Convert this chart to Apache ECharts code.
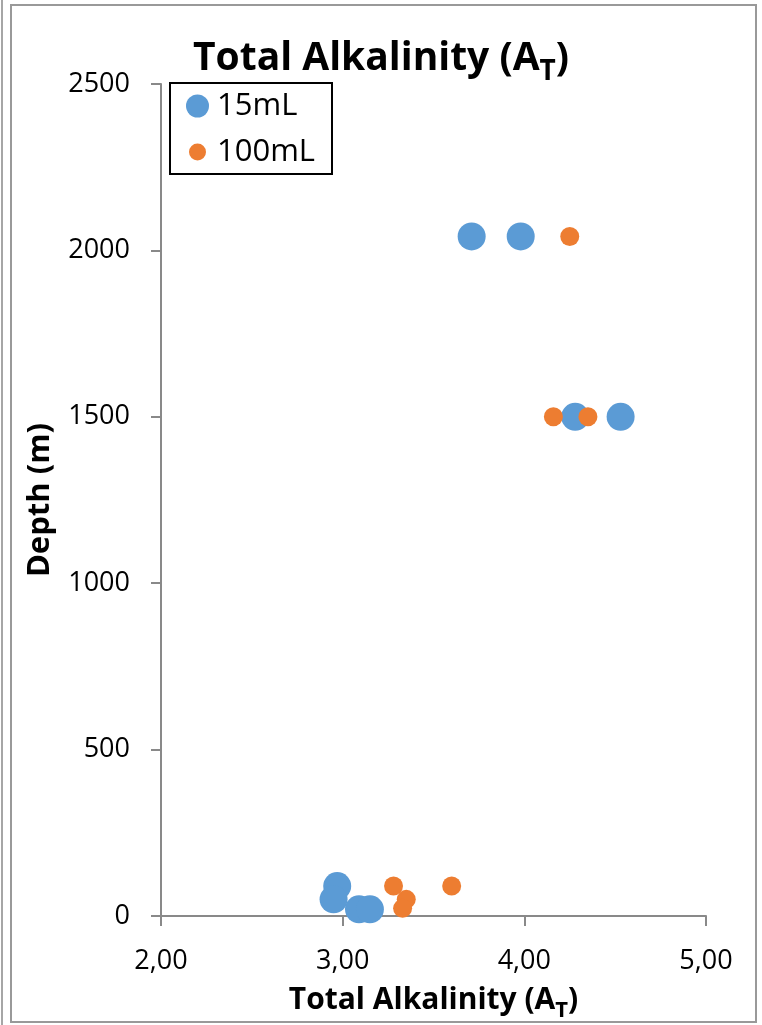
<!DOCTYPE html>
<html>
<head>
<meta charset="utf-8">
<script src="https://cdn.jsdelivr.net/npm/echarts@6/dist/echarts.min.js"></script>
<style>
  html, body { margin: 0; padding: 0; background: #fff; }
  #chart { width: 762px; height: 1025px; }
</style>
</head>
<body>
<div id="chart"></div>
<script>
// Total alkalinity against sampling depth, two sample volumes
const seriesNames = ['15mL', '100mL'];
const alkalinity15 = [3.71, 3.98, 4.28, 4.53, 2.97, 2.95, 3.09, 3.15];
const depth15      = [2042, 2042, 1500, 1500,   90,   50,   20,   20];
const alkalinity100 = [4.25, 4.16, 4.35, 3.28, 3.60, 3.35, 3.33];
const depth100      = [2042, 1500, 1500,   90,   90,   50,   23];
const xTicks = [2, 3, 4, 5];
const yTicks = [0, 500, 1000, 1500, 2000, 2500];

const FONT = 'Open Sans';
const AXIS_GREY = '#898989';
const BLUE = '#5B9BD5';
const ORANGE = '#ED7D31';

const pairs = (xs, ys) => xs.map((x, i) => [x, ys[i]]);

// Bold text with a lowered "T" subscript; the top padding pushes the small token down
const subscriptRich = (size, subSize, lineH, drop) => ({
  a: { fontFamily: FONT, fontWeight: 'bold', fontSize: size, lineHeight: lineH, color: '#000', verticalAlign: 'middle' },
  b: { fontFamily: FONT, fontWeight: 'bold', fontSize: subSize, lineHeight: subSize, color: '#000', verticalAlign: 'middle', padding: [drop * 2, 0, 0, 0] }
});

const chart = echarts.init(document.getElementById('chart'), null, { renderer: 'canvas' });

chart.setOption({
  animation: false,
  backgroundColor: '#fff',
  title: {
    text: '{a|Total Alkalinity (A}{b|T}{a|)}',
    left: 'center',
    top: 31,
    padding: 0,
    textStyle: { rich: subscriptRich(39, 28, 56, 13) }
  },
  legend: [
    {
      data: [seriesNames[0]],
      left: 186, top: 90, padding: 0,
      icon: 'circle', itemWidth: 23, itemHeight: 23,
      textStyle: { fontFamily: FONT, fontSize: 31, color: '#000', lineHeight: 32, padding: [0, 0, 0, 3] }
    },
    {
      data: [seriesNames[1]],
      left: 189, top: 136, padding: 0,
      icon: 'circle', itemWidth: 17, itemHeight: 17,
      textStyle: { fontFamily: FONT, fontSize: 31, color: '#000', lineHeight: 32, padding: [0, 0, 0, 6] }
    }
  ],
  // fixed plot rectangle: axis labels and names may sit outside it
  grid: { left: 161, right: 56, top: 84, bottom: 109, containLabel: false, outerBoundsMode: 'none' },
  xAxis: {
    type: 'value',
    min: xTicks[0], max: xTicks[xTicks.length - 1], interval: 1,
    name: '{a|Total Alkalinity (A}{b|T}{a|)}',
    nameLocation: 'middle',
    nameGap: 53,
    nameTextStyle: { rich: subscriptRich(30, 22, 44, 10) },
    axisLine: { show: true, onZero: false, lineStyle: { color: AXIS_GREY, width: 2 } },
    axisTick: { show: true, length: 10, lineStyle: { color: AXIS_GREY, width: 2 } },
    axisLabel: {
      margin: 32, fontFamily: FONT, fontSize: 27, color: '#000',
      formatter: v => v.toFixed(2).replace('.', ',')
    },
    splitLine: { show: false }
  },
  yAxis: {
    type: 'value',
    min: yTicks[0], max: yTicks[yTicks.length - 1], interval: 500,
    name: 'Depth (m)',
    nameLocation: 'middle',
    nameRotate: 90,
    nameGap: 99,
    nameMoveOverlap: false,
    nameTextStyle: { fontFamily: FONT, fontWeight: 'bold', fontSize: 31, color: '#000', lineHeight: 44 },
    axisLine: { show: true, onZero: false, lineStyle: { color: AXIS_GREY, width: 2 } },
    axisTick: { show: true, length: 10, lineStyle: { color: AXIS_GREY, width: 2 } },
    axisLabel: { margin: 31, fontFamily: FONT, fontSize: 27, color: '#000', formatter: v => String(v) },
    splitLine: { show: false }
  },
  graphic: [
    { type: 'line', shape: { x1: 2, y1: 0, x2: 2, y2: 1025 }, style: { stroke: '#a6a6a6', lineWidth: 2 }, z: 0 },
    { type: 'rect', shape: { x: 11, y: 5, width: 745, height: 1017 }, style: { fill: 'none', stroke: '#999999', lineWidth: 2 }, z: 0 },
    { type: 'rect', shape: { x: 170, y: 83, width: 162, height: 91 }, style: { fill: '#fff', stroke: '#000', lineWidth: 2 }, z: 1 }
  ],
  series: [
    {
      name: seriesNames[0], type: 'scatter', symbol: 'circle', symbolSize: 28,
      itemStyle: { color: BLUE, opacity: 1 },
      data: pairs(alkalinity15, depth15), z: 3
    },
    {
      name: seriesNames[1], type: 'scatter', symbol: 'circle', symbolSize: 19,
      itemStyle: { color: ORANGE, opacity: 1 },
      data: pairs(alkalinity100, depth100), z: 4
    }
  ]
});
</script>
</body>
</html>
